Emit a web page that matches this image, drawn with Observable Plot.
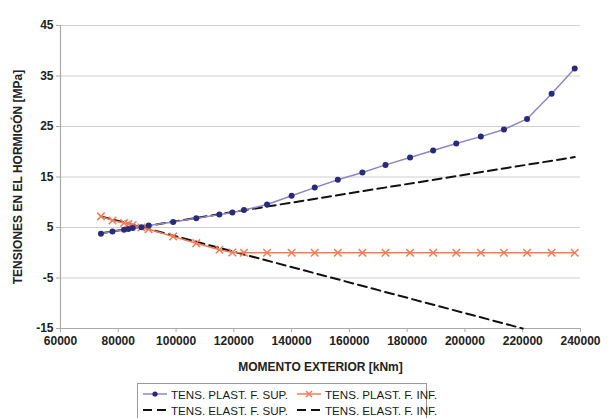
<!DOCTYPE html>
<html>
<head>
<meta charset="utf-8">
<script src="https://cdn.jsdelivr.net/npm/d3@7"></script>
<script src="https://cdn.jsdelivr.net/npm/@observablehq/plot@0.6"></script>
<style>
  body { margin: 0; background: #fff; font-family: "Liberation Sans", Arial, sans-serif; }
  #chart { width: 612px; }
  #chart svg.plotsvg { display: block; }
  .lgbox { margin-left: 137px; width: 290px; border: 1px solid #9a9a9a; background: #fff;
            font-size: 11.6px; color: #1a1a1a; padding: 2px 0 0 4px; box-sizing: border-box; height: 40px; }
  .row { display: flex; height: 16px; align-items: center; white-space: nowrap; }
  .item { display: flex; align-items: center; flex: none; }
  .item.first { width: 154px; }
  .item svg { margin-right: 3px; display: block; }
</style>
</head>
<body>
<div id="chart"></div>
<script>
const momento = [74000, 78000, 82000, 83500, 85000, 88000, 90500, 99000, 107000, 115000, 119500, 123500,
  131500, 140000, 148000, 156000, 164500, 172500, 181000, 189000, 197000, 205500, 213500, 221500, 230000, 238000];
const plastSup = [3.75, 4.2, 4.55, 4.7, 4.9, 5.05, 5.4, 6.1, 6.85, 7.55, 7.95, 8.45,
  9.55, 11.3, 12.9, 14.45, 15.9, 17.4, 18.85, 20.25, 21.65, 23.0, 24.4, 26.5, 31.5, 36.5];
const plastInf = [7.2, 6.4, 5.9, 5.7, 5.5, 5.0, 4.65, 3.2, 1.9, 0.6, 0.05, 0,
  0, 0, 0, 0, 0, 0, 0, 0, 0, 0, 0, 0, 0, 0];
const elastSupM = [74000, 238000];
const elastSupV = [3.85, 18.95];
const elastInfM = [74000, 220000];
const elastInfV = [7.2, -15];
const xTicks = [60000, 80000, 100000, 120000, 140000, 160000, 180000, 200000, 220000, 240000];
const yTicks = [-15, -5, 5, 15, 25, 35, 45];
const seriesNames = ["TENS. PLAST. F. SUP.", "TENS. PLAST. F. INF.", "TENS. ELAST. F. SUP.", "TENS. ELAST. F. INF."];
const xTitle = "MOMENTO EXTERIOR [kNm]";
const yTitle = "TENSIONES EN EL HORMIGÓN [MPa]";

const sup = momento.map((m, i) => ({m, v: plastSup[i]}));
const inf = momento.map((m, i) => ({m, v: plastInf[i]}));
const eSup = elastSupM.map((m, i) => ({m, v: elastSupV[i]}));
const eInf = elastInfM.map((m, i) => ({m, v: elastInfV[i]}));

const supLine = "#8f86c2", supDot = "#2b2a7a", infCol = "#f27c58";

const plot = Plot.plot({
  width: 612,
  height: 383,
  marginLeft: 60,
  marginRight: 32,
  marginTop: 25,
  marginBottom: 55,
  style: {fontFamily: "Liberation Sans, Arial, sans-serif", fontSize: "12px", fontWeight: "bold", color: "#222", background: "#fff"},
  x: {domain: [60000, 240000], ticks: xTicks, tickFormat: d => String(d)},
  y: {domain: [-15, 45], ticks: yTicks, tickFormat: d => String(d)},
  marks: [
    Plot.gridY(yTicks, {stroke: "#cfcfcf", strokeOpacity: 1, strokeWidth: 1.2}),
    Plot.axisY({ticks: yTicks, tickSize: 4, stroke: "#aaa", tickPadding: 3, tickFormat: d => String(d), label: yTitle, labelAnchor: "center", labelArrow: "none", labelOffset: 47}),
    Plot.axisX({ticks: xTicks, tickSize: 4, stroke: "#aaa", tickPadding: 4, tickFormat: d => String(d), label: xTitle, labelAnchor: "center", labelArrow: "none", labelOffset: 42}),
    Plot.ruleX([60000], {stroke: "#aaa", strokeWidth: 1.2}),
    Plot.ruleY([-15], {stroke: "#aaa", strokeWidth: 1.2}),
    Plot.line(eSup, {x: "m", y: "v", stroke: "#111", strokeWidth: 2, strokeDasharray: "9,5"}),
    Plot.line(eInf, {x: "m", y: "v", stroke: "#111", strokeWidth: 2, strokeDasharray: "9,5"}),
    Plot.line(inf, {x: "m", y: "v", stroke: infCol, strokeWidth: 1.5}),
    Plot.dot(inf, {x: "m", y: "v", symbol: "times", r: 3.5, stroke: infCol, strokeWidth: 1.5}),
    Plot.line(sup, {x: "m", y: "v", stroke: supLine, strokeWidth: 1.5}),
    Plot.dot(sup, {x: "m", y: "v", r: 3, fill: supDot, stroke: "none"})
  ]
});
plot.classList.add("plotsvg");
const chart = document.getElementById("chart");
chart.appendChild(plot);

function sw(type) {
  let s = '<svg width="26" height="10">';
  if (type === 0) s += '<line x1="1" y1="5" x2="25" y2="5" stroke="' + supLine + '" stroke-width="1.5"/><circle cx="13" cy="5" r="2.6" fill="' + supDot + '"/>';
  if (type === 1) s += '<line x1="1" y1="5" x2="25" y2="5" stroke="' + infCol + '" stroke-width="1.5"/><path d="M10,2L16,8M16,2L10,8" stroke="' + infCol + '" stroke-width="1.5"/>';
  if (type >= 2) s += '<line x1="1" y1="5" x2="25" y2="5" stroke="#111" stroke-width="2" stroke-dasharray="9,5"/>';
  return s + '</svg>';
}
const lg = document.createElement("div");
lg.className = "lgbox";
lg.innerHTML = '<div class="row"><div class="item first">' + sw(0) + seriesNames[0] + '</div><div class="item">' + sw(1) + seriesNames[1] + '</div></div>' +
  '<div class="row"><div class="item first">' + sw(2) + seriesNames[2] + '</div><div class="item">' + sw(3) + seriesNames[3] + '</div></div>';
chart.appendChild(lg);
</script>
</body>
</html>
